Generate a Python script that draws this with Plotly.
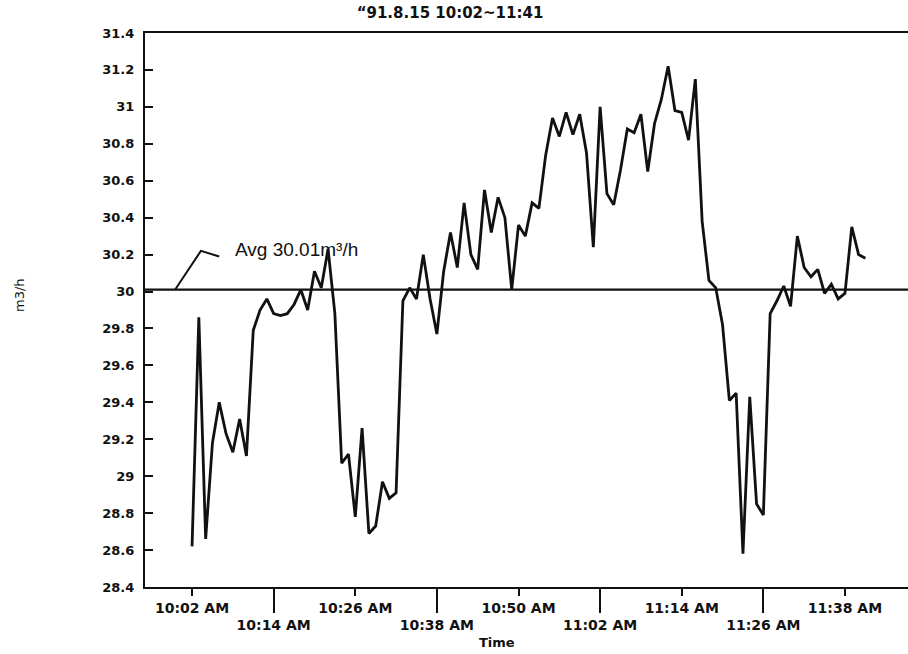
import plotly.graph_objects as go
from datetime import datetime, timedelta

# Flow rate logged once a minute, 1991-08-15 10:02 .. 11:41 (m3/h)
START = datetime(1991, 8, 15, 10, 2)
FLOW = [
    28.62, 29.86, 28.66, 29.18, 29.40, 29.23, 29.13, 29.31, 29.11, 29.79,
    29.90, 29.96, 29.88, 29.87, 29.88, 29.93, 30.01, 29.90, 30.11, 30.02,
    30.23, 29.88, 29.07, 29.12, 28.78, 29.26, 28.69, 28.73, 28.97, 28.88,
    28.91, 29.95, 30.02, 29.96, 30.20, 29.96, 29.77, 30.11, 30.32, 30.13,
    30.48, 30.20, 30.12, 30.55, 30.32, 30.51, 30.40, 30.01, 30.36, 30.30,
    30.48, 30.45, 30.74, 30.94, 30.84, 30.97, 30.85, 30.96, 30.75, 30.24,
    31.00, 30.53, 30.47, 30.66, 30.88, 30.86, 30.96, 30.65, 30.91, 31.04,
    31.22, 30.98, 30.97, 30.82, 31.15, 30.38, 30.06, 30.02, 29.82, 29.41,
    29.45, 28.58, 29.43, 28.85, 28.79, 29.88, 29.95, 30.03, 29.92, 30.30,
    30.13, 30.08, 30.12, 29.99, 30.04, 29.96, 29.99, 30.35, 30.20, 30.18,
]
AVG_FLOW = 30.01

TITLE = "\u201c91.8.15 10:02~11:41"
Y_TICKS = [28.4, 28.6, 28.8, 29.0, 29.2, 29.4, 29.6, 29.8, 30.0,
           30.2, 30.4, 30.6, 30.8, 31.0, 31.2, 31.4]
X_TICKS_UPPER = ["10:02", "10:26", "10:50", "11:14", "11:38"]
X_TICKS_LOWER = ["10:14", "10:38", "11:02", "11:26"]
X_RANGE = ["09:55:05", "11:47:16"]

# leader from the average line up to its label: (minutes from start, offset above line)
LEADER_MIN = [-2.5, 1.3, 4.0]
LEADER_OFF = [0.0, 0.21, 0.18]

times = [START + timedelta(minutes=i) for i in range(len(FLOW))]


def at(hhmm):
    h, m, *s = (int(p) for p in hhmm.split(":"))
    return START.replace(hour=h, minute=m, second=s[0] if s else 0)


def ampm(hhmm):
    return f"{hhmm} AM"


BLACK = "#111111"
tick_font = dict(family="DejaVu Sans", size=14, color=BLACK, weight="bold")

fig = go.Figure()

fig.add_trace(go.Scatter(
    x=times, y=FLOW, mode="lines",
    line=dict(color=BLACK, width=2.8), hoverinfo="skip", showlegend=False,
))

fig.add_trace(go.Scatter(
    x=[START + timedelta(minutes=m) for m in LEADER_MIN],
    y=[AVG_FLOW + o for o in LEADER_OFF],
    mode="lines", line=dict(color=BLACK, width=2),
    hoverinfo="skip", showlegend=False,
))

# dummy trace to activate the second (offset-label) time axis
fig.add_trace(go.Scatter(x=[times[0]], y=[FLOW[0]], xaxis="x2", mode="markers",
                         marker=dict(opacity=0), hoverinfo="skip", showlegend=False))

fig.add_shape(type="line", xref="paper", x0=0, x1=1, yref="y", y0=AVG_FLOW, y1=AVG_FLOW,
              line=dict(color=BLACK, width=2.2))

fig.add_annotation(
    x=START + timedelta(minutes=6.0), y=AVG_FLOW + 0.215, xref="x", yref="y",
    text=f"Avg {AVG_FLOW:.2f}m\u00b3/h", showarrow=False, xanchor="left", yanchor="middle",
    font=dict(family="Liberation Sans", size=19, color=BLACK),
)

fig.add_annotation(
    x=(497 - 145) / 763, y=(587 - 642) / 554, xref="paper", yref="paper",
    text="Time", showarrow=False, xanchor="center", yanchor="middle",
    font=dict(family="DejaVu Sans", size=13, color=BLACK, weight="bold"),
)

fig.add_annotation(
    x=(20 - 145) / 763, y=(587 - 295) / 554, xref="paper", yref="paper",
    text="m3/h", showarrow=False, textangle=-90, xanchor="center", yanchor="middle",
    font=dict(family="DejaVu Sans", size=13, color=BLACK),
)

x_range = [at(X_RANGE[0]), at(X_RANGE[1])]

fig.update_layout(
    width=908, height=654,
    margin=dict(l=145, r=0, t=33, b=67),
    paper_bgcolor="white", plot_bgcolor="white",
    showlegend=False,
    title=dict(text=TITLE, x=450 / 908, xanchor="center", y=1 - 13 / 654, yanchor="middle",
               font=dict(family="DejaVu Sans", size=15, color=BLACK, weight="bold")),
    xaxis=dict(
        type="date", range=x_range,
        tickvals=[at(t) for t in X_TICKS_UPPER], ticktext=[ampm(t) for t in X_TICKS_UPPER],
        ticks="outside", ticklen=7, tickwidth=2, tickcolor=BLACK,
        showline=True, linecolor=BLACK, linewidth=2.2, mirror=True,
        showgrid=False, zeroline=False, tickfont=tick_font,
    ),
    xaxis2=dict(
        type="date", range=x_range, overlaying="x", anchor="y", side="bottom",
        tickvals=[at(t) for t in X_TICKS_LOWER], ticktext=[ampm(t) for t in X_TICKS_LOWER],
        ticks="outside", ticklen=25, tickwidth=2, tickcolor=BLACK,
        showline=False, showgrid=False, zeroline=False, tickfont=tick_font,
    ),
    yaxis=dict(
        range=[Y_TICKS[0], Y_TICKS[-1]],
        tickvals=Y_TICKS, ticktext=[f"{v:g}" for v in Y_TICKS],
        ticks="inside", ticklen=8, tickwidth=2, tickcolor=BLACK,
        showline=True, linecolor=BLACK, linewidth=2.2, mirror=False,
        showgrid=False, zeroline=False, ticklabelstandoff=6,
        tickfont=dict(family="DejaVu Sans", size=13, color=BLACK, weight="bold"),
    ),
)

fig.write_html("out.html")
